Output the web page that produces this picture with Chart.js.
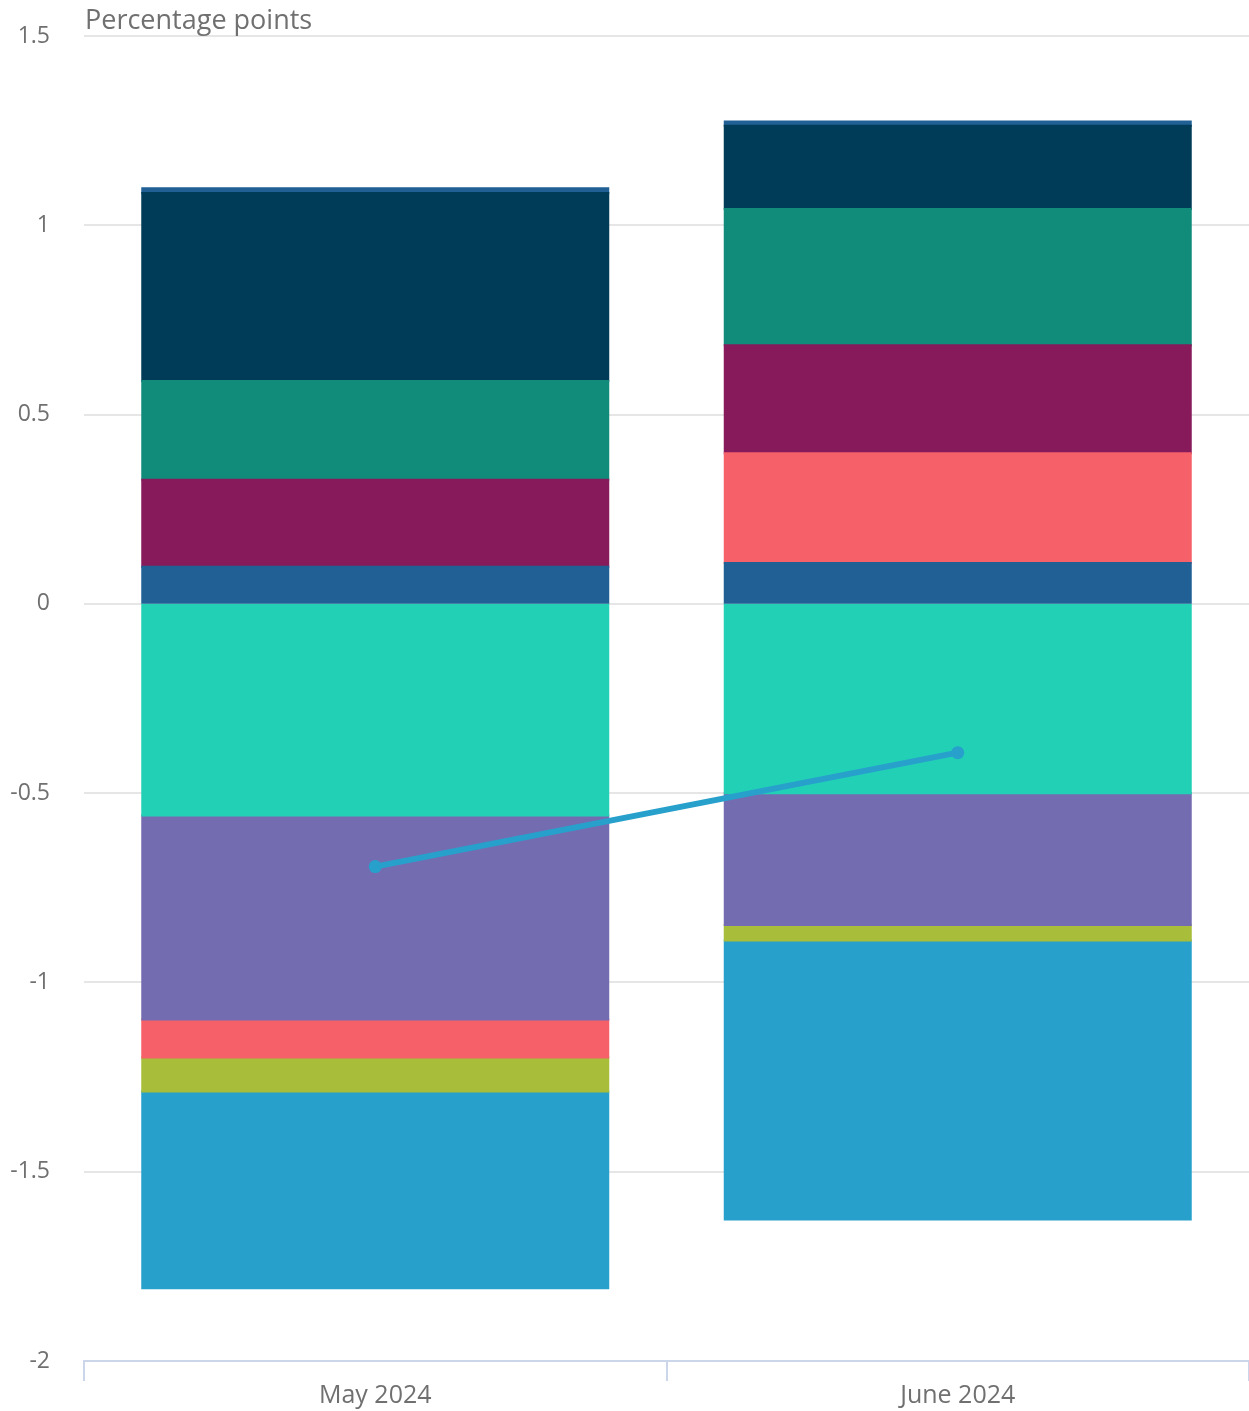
<!DOCTYPE html>
<html>
<head>
<meta charset="utf-8">
<script src="https://cdn.jsdelivr.net/npm/chart.js@4.4.1/dist/chart.umd.min.js"></script>
<style>
  body { margin: 0; background: #fff; }
  #wrap { width: 1249px; height: 1411px; }
</style>
</head>
<body>
<div id="wrap"><canvas id="chart" width="1249" height="1411"></canvas></div>
<script>
const months = ['May 2024', 'June 2024'];

// series in palette order (s1 sits furthest from zero)
const s1 = [0.013, 0.011];
const s2 = [-0.52, -0.737];
const s3 = [0.496, 0.22];
const s4 = [0.261, 0.36];
const s5 = [-0.09, -0.041];
const s6 = [0.23, 0.285];
const s7 = [-0.10, 0.29];
const s8 = [-0.539, -0.348];
const s9 = [-0.559, -0.50];
const s10 = [0.098, 0.108];
const total = [-0.694, -0.393];

const yTicks = [-2, -1.5, -1, -0.5, 0, 0.5, 1, 1.5];

const barSeries = [
  { data: s10, color: '#206095' },
  { data: s9, color: '#22d0b6' },
  { data: s8, color: '#746cb1' },
  { data: s7, color: '#f66068' },
  { data: s6, color: '#871a5b' },
  { data: s5, color: '#a8bd3a' },
  { data: s4, color: '#118c7b' },
  { data: s3, color: '#003c57' },
  { data: s2, color: '#27a0cc' },
  { data: s1, color: '#206095' },
];

const grey = '#707071';

const unitTitle = {
  id: 'unitTitle',
  afterDraw(chart) {
    const ctx = chart.ctx;
    ctx.save();
    ctx.font = '27px "Open Sans"';
    ctx.fillStyle = grey;
    ctx.textAlign = 'left';
    ctx.textBaseline = 'middle';
    ctx.fillText('Percentage points', chart.chartArea.left + 1, 21);
    ctx.restore();
  }
};

new Chart(document.getElementById('chart'), {
  type: 'bar',
  data: {
    labels: months,
    datasets: [
      {
        type: 'line',
        data: total,
        stack: 'line',
        order: 0,
        borderColor: '#27a0cc',
        backgroundColor: '#27a0cc',
        borderWidth: 6,
        pointRadius: 6.5,
        pointBorderWidth: 0,
        pointBackgroundColor: '#27a0cc',
      },
      ...barSeries.map(s => ({
        data: s.data,
        backgroundColor: s.color,
        borderWidth: 0,
        borderSkipped: false,
        inflateAmount: 1,
        stack: 'bars',
        order: 1,
        categoryPercentage: 1,
        barPercentage: 0.8,
      })),
    ],
  },
  options: {
    responsive: false,
    animation: false,
    layout: { autoPadding: false, padding: { top: 36, right: 0, left: 0, bottom: 0 } },
    plugins: {
      legend: { display: false },
      tooltip: { enabled: false },
    },
    scales: {
      x: {
        stacked: true,
        offset: true,
        grid: {
          offset: true,
          drawOnChartArea: false,
          tickLength: 20,
          color: '#ccd6eb',
          lineWidth: 2,
        },
        border: { color: '#ccd6eb', width: 2 },
        ticks: {
          color: grey,
          font: { family: 'Open Sans', size: 25 },
          padding: 0,
        },
        afterFit(scale) {
          scale.height = 50;
          scale.paddingLeft = 0;
          scale.paddingRight = 0;
        },
      },
      y: {
        stacked: true,
        min: -2,
        max: 1.5,
        afterBuildTicks(scale) { scale.ticks = yTicks.map(v => ({ value: v })); },
        grid: { color: '#e6e6e6', lineWidth: 2, drawTicks: false },
        border: { display: false },
        ticks: {
          color: grey,
          font: { family: 'Open Sans', size: 23 },
          padding: 34,
          callback: v => String(v),
        },
        afterFit(scale) {
          scale.width = 84;
          scale.paddingTop = 0;
          scale.paddingBottom = 0;
        },
      },
    },
  },
  plugins: [unitTitle],
});
</script>
</body>
</html>
